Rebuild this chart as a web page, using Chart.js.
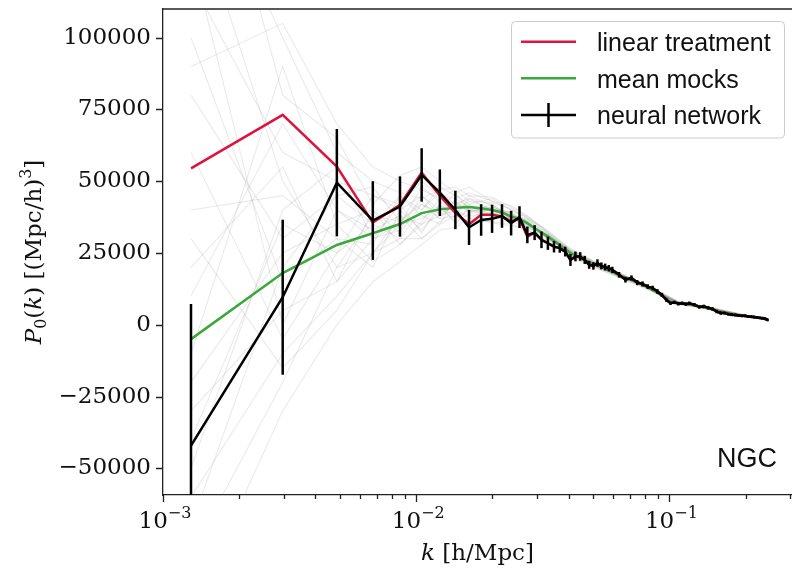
<!DOCTYPE html>
<html>
<head>
<meta charset="utf-8">
<script src="https://cdn.jsdelivr.net/npm/chart.js@4/dist/chart.umd.min.js"></script>
<style>
  body { margin: 0; background: #fff; }
</style>
</head>
<body>
<canvas id="grafico" width="792" height="572"></canvas>
<script>
// k bins of the neural network / linear treatment measurements
const kNet = [0.00129, 0.00297, 0.00486, 0.00674, 0.00863, 0.01051, 0.01240, 0.01428, 0.01617, 0.01805,
    0.01994, 0.02182, 0.02371, 0.02559, 0.02748, 0.02936, 0.03125, 0.03313, 0.03502, 0.03690,
    0.03879, 0.04067, 0.04256, 0.04444, 0.04633, 0.04821, 0.05010, 0.05198, 0.05387, 0.05575,
    0.05764, 0.05952, 0.06329, 0.06706, 0.07083, 0.07460, 0.07837, 0.08214, 0.08591, 0.08968,
    0.09345, 0.09722, 0.1010, 0.1048, 0.1085, 0.1123, 0.1161, 0.1198, 0.1255, 0.1312,
    0.1368, 0.1425, 0.1481, 0.1538, 0.1594, 0.1651, 0.1707, 0.1764, 0.1821, 0.1877,
    0.1934, 0.1990, 0.2047, 0.2103, 0.2160, 0.2216, 0.2273, 0.2329, 0.2386, 0.2443]

const pNet = [-42100, 9600, 49500, 36300, 41200, 52200, 46000, 40000, 33900, 36500,
    36900, 37900, 35400, 37500, 31300, 32100, 29600, 28400, 27200, 26700,
    25500, 22600, 23800, 23800, 22600, 20900, 20500, 21500, 20500, 20100,
    19700, 19100, 17400, 15700, 16300, 14700, 14200, 13300, 12800, 11600,
    10400, 8700, 7500, 7800, 7300, 7500, 7200, 7500, 7000, 6200,
    6400, 5900, 5500, 4600, 4100, 4100, 3700, 3500, 3400, 3200,
    3100, 3100, 2900, 2800, 2700, 2500, 2400, 2300, 2100, 1700]

const errNet = [49300, 27000, 18700, 13700, 10500, 9300, 8100, 6700, 6100, 5500,
    4900, 4100, 4300, 3800, 2900, 2600, 2900, 2300, 2000, 1600,
    1700, 2100, 1700, 1500, 1400, 1400, 1300, 1300, 1200, 1200,
    1100, 1100, 1000, 1000, 900, 900, 900, 800, 800, 800,
    700, 700, 600, 600, 600, 600, 600, 600, 600, 600,
    600, 600, 600, 600, 600, 500, 500, 500, 500, 500,
    500, 500, 500, 500, 500, 500, 500, 500, 500, 500]

// linear treatment differs from the network only at the largest scales
const pLinearLow = [54500, 73100, 55100, 35600, 41800, 53000, 45000, 39000, 35000, 38300,
    38300, 37700, 36000, 37000, 30700]
const pLinear = pLinearLow.concat(pNet.slice(pLinearLow.length))

// mean of the mocks
const kMean = [0.00129, 0.00297, 0.00486, 0.00674, 0.00863, 0.01051, 0.01240, 0.01428, 0.01617, 0.01805,
    0.01994, 0.02182, 0.02371, 0.02559, 0.02748, 0.02936, 0.03313, 0.03690, 0.04067, 0.04444,
    0.05010, 0.05575, 0.06329, 0.07083, 0.07837, 0.08968, 0.1010, 0.1123, 0.1255, 0.1425,
    0.1594, 0.1821, 0.2047, 0.2273, 0.2443]
const pMean = [-5000, 18000, 27800, 31900, 35100, 38900, 40200, 40800, 41000, 40600,
    40000, 39100, 37700, 36800, 35400, 33600, 30700, 27800, 25000, 23200,
    21200, 19600, 17300, 15600, 14000, 11200, 8000, 7400, 6800, 5700,
    4400, 3500, 2900, 2400, 1900]

// individual mocks (grey), read coarsely
const kMock = [0.00129, 0.00297, 0.00486, 0.00674, 0.00863, 0.01051, 0.01240, 0.01428, 0.01617, 0.01994,
    0.02371, 0.02748, 0.03313, 0.04067, 0.05010, 0.06329, 0.08214, 0.1085, 0.1481, 0.2047, 0.2443]
const mocks = [
    [120000, 60000, 50000, 45000, 42000, 50000, 45000, 44000, 46000, 43000, 40000, 37000, 32000, 25800, 22000, 18000, 13600, 8000, 5800, 3100, 2100],
    [-60000, -10000, 10000, 25000, 30000, 30000, 35000, 38000, 36000, 36000, 35000, 33000, 29000, 23800, 20200, 16500, 12300, 7100, 5200, 2700, 1700],
    [40000, 45000, 30000, 20000, 40000, 45000, 38000, 42000, 44000, 42000, 38000, 36500, 31500, 25500, 21600, 17000, 13200, 7700, 5600, 3000, 2000],
    [-30000, 5000, 15000, 40000, 28000, 35000, 42000, 37000, 40000, 38000, 37000, 34000, 30000, 24400, 20600, 17600, 12700, 7400, 5400, 2800, 1800],
    [80000, 30000, 45000, 35000, 45000, 40000, 48000, 45000, 42000, 44000, 40000, 37500, 31800, 25900, 21900, 17900, 13400, 7900, 5700, 3100, 2000],
    [-80000, -20000, 20000, 25000, 38000, 30000, 36000, 40000, 38000, 39000, 36000, 34000, 30500, 24500, 20700, 16900, 12600, 7300, 5300, 2800, 1800],
    [10000, 70000, 40000, 30000, 33000, 45000, 40000, 46000, 40000, 41000, 39000, 35000, 31000, 25200, 21300, 17500, 13100, 7700, 5500, 2900, 1900],
    [150000, 50000, 20000, 38000, 36000, 42000, 37000, 38000, 44000, 40000, 38500, 36000, 30000, 25100, 21000, 17100, 12900, 7500, 5600, 3000, 1900],
    [-20000, 25000, 35000, 22000, 28000, 36000, 44000, 40000, 42000, 37000, 37500, 34500, 31200, 24800, 20800, 17600, 12800, 7600, 5400, 2900, 1900],
    [60000, -5000, 25000, 45000, 40000, 33000, 40000, 43000, 39000, 42000, 36500, 35500, 30400, 25300, 21500, 17200, 13000, 7600, 5500, 2900, 1900],
    [-50000, 40000, 55000, 30000, 35000, 48000, 43000, 39000, 43000, 40500, 39000, 35000, 31000, 25000, 21000, 17400, 12900, 7600, 5500, 2900, 1900],
    [100000, 15000, 30000, 28000, 45000, 38000, 35000, 44000, 41000, 39500, 38000, 36800, 30800, 24700, 21100, 17000, 13100, 7500, 5500, 2900, 1900],
    [-10000, 90000, 35000, 40000, 32000, 42000, 39000, 41000, 45000, 41500, 37000, 34800, 31400, 25400, 21400, 17300, 13000, 7700, 5600, 3000, 2000],
    [30000, -15000, 5000, 25000, 35000, 37000, 41000, 36000, 38500, 40500, 38200, 36200, 30200, 24900, 21200, 17400, 12900, 7500, 5400, 2900, 1900],
    [-40000, 35000, 25000, 35000, 30000, 40000, 46000, 42000, 40000, 39000, 37200, 35200, 31600, 25600, 20900, 17100, 13000, 7600, 5500, 2900, 1900],
    [130000, 0, 40000, 33000, 38000, 35000, 38000, 40000, 37000, 41000, 38800, 34200, 30600, 24600, 21300, 17300, 13100, 7700, 5500, 3000, 1900],
    [170000, 100000, 60000, 50000, 46000, 44000, 47000, 48000, 45000, 44500, 41000, 37800, 32500, 26300, 22300, 18200, 13700, 8100, 5800, 3200, 2100],
    [200000, 80000, 65000, 42000, 52000, 55000, 50000, 46000, 48000, 43000, 41500, 38000, 32200, 26000, 22100, 18000, 13500, 8000, 5800, 3100, 2100],
    [-100000, -30000, 0, 15000, 22000, 28000, 33000, 34000, 37000, 35500, 34500, 33200, 29400, 23600, 20100, 16600, 12400, 7200, 5200, 2700, 1700],
    [90000, 105000, 70000, 55000, 50000, 47000, 44000, 47000, 43000, 42500, 40500, 37200, 32800, 26500, 22000, 17700, 13400, 7900, 5700, 3100, 2000],
    [20000, 55000, 15000, 30000, 42000, 32000, 42000, 35000, 41000, 38500, 39500, 35800, 29800, 25000, 20500, 16800, 12800, 7400, 5300, 2800, 1800],
    [-70000, 20000, 45000, 48000, 36000, 43000, 37000, 43000, 39500, 40000, 37800, 34400, 31300, 25700, 21700, 17400, 13000, 7600, 5500, 2900, 1900]
]

const xTicksMajor = [0.001, 0.01, 0.1]
const xTicksMinor = [0.002, 0.003, 0.004, 0.005, 0.006, 0.007, 0.008, 0.009,
    0.02, 0.03, 0.04, 0.05, 0.06, 0.07, 0.08, 0.09, 0.2, 0.3]
const xTickExp = ['\u22123', '\u22122', '\u22121']
const yTicks = [-50000, -25000, 0, 25000, 50000, 75000, 100000]

const legendItems = [
    { label: 'linear treatment', color: '#dc143c' },
    { label: 'mean mocks', color: '#3aa83a' },
    { label: 'neural network', color: '#000000', bar: true }
]

const larguraLinha = 2.5

function pontos(ks, vs) {
    return ks.map((k, i) => ({ x: k, y: vs[i] }))
}

// draws a line of text with mixed fonts / sub and superscripts, centred on x
function textoRico(ctx, partes, x, y) {
    let w = 0
    partes.forEach(p => { ctx.font = p[1]; w += ctx.measureText(p[0]).width })
    let cx = x - w / 2
    partes.forEach(p => {
        ctx.font = p[1]
        ctx.fillText(p[0], cx, y + p[2])
        cx += ctx.measureText(p[0]).width
    })
}

const serif = '"DejaVu Serif"'

const extras = {
    id: 'extras',
    afterDatasetsDraw(chart) {
        const { ctx, chartArea: a, scales: { x, y } } = chart
        // error bars of the network
        ctx.save()
        ctx.beginPath()
        ctx.rect(a.left, a.top, a.right - a.left, a.bottom - a.top)
        ctx.clip()
        ctx.strokeStyle = '#000'
        ctx.lineWidth = larguraLinha
        kNet.forEach((k, i) => {
            const px = x.getPixelForValue(k)
            ctx.beginPath()
            ctx.moveTo(px, y.getPixelForValue(pNet[i] - errNet[i]))
            ctx.lineTo(px, y.getPixelForValue(pNet[i] + errNet[i]))
            ctx.stroke()
        })
        ctx.restore()
    },
    afterDraw(chart) {
        const { ctx, chartArea: a, scales: { x, y } } = chart
        ctx.save()
        ctx.strokeStyle = '#222'
        ctx.lineWidth = 1.3

        // top frame
        ctx.beginPath()
        ctx.moveTo(a.left, a.top)
        ctx.lineTo(a.right, a.top)
        ctx.stroke()

        // tick marks
        ctx.beginPath()
        xTicksMajor.forEach(v => {
            const px = Math.round(x.getPixelForValue(v)) + 0.5
            ctx.moveTo(px, a.bottom); ctx.lineTo(px, a.bottom + 7)
        })
        xTicksMinor.forEach(v => {
            const px = Math.round(x.getPixelForValue(v)) + 0.5
            ctx.moveTo(px, a.bottom); ctx.lineTo(px, a.bottom + 4)
        })
        yTicks.forEach(v => {
            const py = Math.round(y.getPixelForValue(v)) + 0.5
            ctx.moveTo(a.left, py); ctx.lineTo(a.left - 7, py)
        })
        ctx.stroke()

        ctx.fillStyle = '#111'
        ctx.textBaseline = 'alphabetic'

        // x tick labels 10^n
        xTicksMajor.forEach((v, i) => {
            textoRico(ctx, [
                ['10', '23px ' + serif, 0],
                [xTickExp[i], '16px ' + serif, -10]
            ], x.getPixelForValue(v) + 2, 528)
        })

        // axis titles
        textoRico(ctx, [
            ['k', 'italic 23px ' + serif, 0],
            [' [h/Mpc]', '23px ' + serif, 0]
        ], (a.left + a.right) / 2, 560)

        ctx.save()
        ctx.translate(41, (a.top + a.bottom) / 2)
        ctx.rotate(-Math.PI / 2)
        textoRico(ctx, [
            ['P', 'italic 23px ' + serif, 0],
            ['0', '16px ' + serif, 5],
            ['(', '23px ' + serif, 0],
            ['k', 'italic 23px ' + serif, 0],
            [') [(Mpc/h)', '23px ' + serif, 0],
            ['3', '16px ' + serif, -10],
            [']', '23px ' + serif, 0]
        ], 0, 0)
        ctx.restore()

        // NGC label
        ctx.font = '27px "Liberation Sans"'
        ctx.textAlign = 'right'
        ctx.fillText('NGC', 777, 467)
        ctx.textAlign = 'left'

        // legend
        ctx.beginPath()
        ctx.roundRect(511.5, 21.5, 273, 116.5, 4)
        ctx.fillStyle = 'rgba(255,255,255,0.85)'
        ctx.fill()
        ctx.strokeStyle = '#cccccc'
        ctx.lineWidth = 1
        ctx.stroke()
        ctx.font = '25px "Liberation Sans"'
        legendItems.forEach((it, i) => {
            const ly = 41.7 + i * 36.6
            ctx.strokeStyle = it.color
            ctx.lineWidth = larguraLinha
            ctx.beginPath()
            ctx.moveTo(521, ly); ctx.lineTo(576, ly)
            if (it.bar) { ctx.moveTo(548.5, ly - 12); ctx.lineTo(548.5, ly + 12) }
            ctx.stroke()
            ctx.fillStyle = '#111'
            ctx.fillText(it.label, 597, ly + 9.5)
        })
        ctx.restore()
    }
}

Chart.defaults.font.family = serif
Chart.defaults.font.size = 23
Chart.defaults.color = '#111'

const datasets = [
    { data: pontos(kNet, pNet), borderColor: '#000', borderWidth: larguraLinha, order: 0 },
    { data: pontos(kNet, pLinear), borderColor: '#dc143c', borderWidth: larguraLinha, order: 1 },
    { data: pontos(kMean, pMean), borderColor: '#3aa83a', borderWidth: larguraLinha, order: 2 }
]
mocks.forEach(m => {
    datasets.push({ data: pontos(kMock, m), borderColor: 'rgba(140,140,140,0.18)', borderWidth: 1.1, order: 3 })
})

function semPadding(s) {
    s.paddingTop = 0
    s.paddingBottom = 0
    s.paddingLeft = 0
    s.paddingRight = 0
}

new Chart(document.getElementById('grafico'), {
    type: 'line',
    data: { datasets: datasets },
    options: {
        responsive: false,
        animation: false,
        devicePixelRatio: 1,
        layout: { padding: { top: 9, left: 0, right: 0, bottom: 0 } },
        elements: { point: { radius: 0 }, line: { tension: 0 } },
        plugins: { legend: { display: false }, tooltip: { enabled: false } },
        scales: {
            x: {
                type: 'logarithmic',
                min: 0.001,
                max: 0.305,
                grid: { display: false, drawTicks: false },
                border: { display: true, color: '#222', width: 1.3 },
                afterBuildTicks: s => { s.ticks = xTicksMajor.map(v => ({ value: v })) },
                afterFit: s => { s.height = 77; semPadding(s) },
                ticks: { display: false }
            },
            y: {
                min: -59300,
                max: 110000,
                grid: { display: false, drawTicks: false },
                border: { display: true, color: '#222', width: 1.3 },
                afterBuildTicks: s => { s.ticks = yTicks.map(v => ({ value: v })) },
                afterFit: s => { s.width = 163; semPadding(s) },
                ticks: {
                    padding: 12,
                    callback: v => v < 0 ? '\u2212' + Math.abs(v) : String(v)
                }
            }
        }
    },
    plugins: [extras]
})
</script>
</body>
</html>
